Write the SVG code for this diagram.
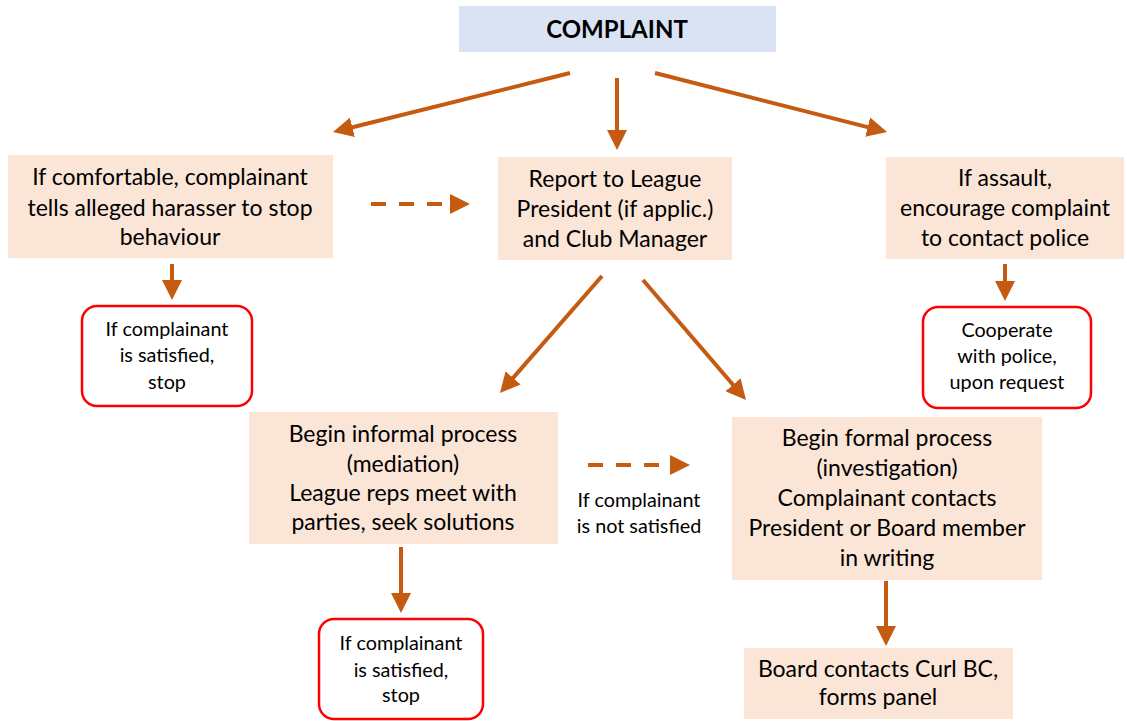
<svg xmlns="http://www.w3.org/2000/svg" width="1127" height="721" viewBox="0 0 1127 721">
<style>
.box{fill:#fbe5d6;}
.top{fill:#dae3f3;}
.red{fill:#fff;stroke:#ff0000;stroke-width:2.5;}
text{font-family:Lato,"Liberation Sans",sans-serif;fill:#000;text-anchor:middle;}
.t{font-size:23px;}
.s{font-size:19.8px;}
.c{stroke:#c55a11;stroke-width:4;fill:none;marker-end:url(#ah);}
.d{stroke-dasharray:15 13;}
</style>
<defs>
<marker id="ah" viewBox="0 0 20 20" refX="2" refY="10" markerWidth="20" markerHeight="20" markerUnits="userSpaceOnUse" orient="auto">
<path d="M0,0 L20,10 L0,20 z" fill="#c55a11"/>
</marker>
</defs>
<rect width="1127" height="721" fill="#fff"/>
<g id="complaint">
<rect class="top" x="459" y="6" width="317" height="46"/>
<text x="617" y="38" style="font-size:24px;font-weight:bold">COMPLAINT</text>
</g>
<g id="tell">
<rect class="box" x="8" y="155" width="325" height="103"/>
<text class="t" x="170" y="185">If comfortable, complainant</text>
<text class="t" x="170" y="216">tells alleged harasser to stop</text>
<text class="t" x="170" y="245">behaviour</text>
</g>
<g id="report">
<rect class="box" x="498" y="157" width="234" height="103"/>
<text class="t" x="615" y="187">Report to League</text>
<text class="t" x="615" y="217">President (if applic.)</text>
<text class="t" x="615" y="247">and Club Manager</text>
</g>
<g id="assault">
<rect class="box" x="886" y="157" width="238" height="102"/>
<text class="t" x="1005" y="186">If assault,</text>
<text class="t" x="1005" y="216">encourage complaint</text>
<text class="t" x="1005" y="246">to contact police</text>
</g>
<g id="stop1">
<rect class="red" x="82" y="306" width="170" height="100" rx="15"/>
<text class="s" x="167" y="336">If complainant</text>
<text class="s" x="167" y="362">is satisfied,</text>
<text class="s" x="167" y="389">stop</text>
</g>
<g id="police">
<rect class="red" x="923" y="307" width="168" height="101" rx="15"/>
<text class="s" x="1007" y="337">Cooperate</text>
<text class="s" x="1007" y="363">with police,</text>
<text class="s" x="1007" y="389">upon request</text>
</g>
<g id="informal">
<rect class="box" x="249" y="412" width="309" height="132"/>
<text class="t" x="403" y="442">Begin informal process</text>
<text class="t" x="403" y="472">(mediation)</text>
<text class="t" x="403" y="501">League reps meet with</text>
<text class="t" x="403" y="530">parties, seek solutions</text>
</g>
<g id="formal">
<rect class="box" x="732" y="417" width="310" height="163"/>
<text class="t" x="887" y="446">Begin formal process</text>
<text class="t" x="887" y="476">(investigation)</text>
<text class="t" x="887" y="506">Complainant contacts</text>
<text class="t" x="887" y="536">President or Board member</text>
<text class="t" x="887" y="566">in writing</text>
</g>
<g id="stop2">
<rect class="red" x="319" y="619" width="164" height="100" rx="15"/>
<text class="s" x="401" y="650">If complainant</text>
<text class="s" x="401" y="677">is satisfied,</text>
<text class="s" x="401" y="702">stop</text>
</g>
<g id="board">
<rect class="box" x="744" y="648" width="269" height="71"/>
<text class="t" x="878" y="677">Board contacts Curl BC,</text>
<text class="t" x="878" y="705">forms panel</text>
</g>
<g id="label">
<text class="s" x="639" y="507">If complainant</text>
<text class="s" x="639" y="533">is not satisfied</text>
</g>
<g id="connectors">
<line class="c" x1="570" y1="73" x2="350.5" y2="127.7"/>
<line class="c" x1="617" y1="78" x2="617" y2="132"/>
<line class="c" x1="655" y1="73" x2="869.6" y2="127.6"/>
<line class="c d" x1="371" y1="204" x2="452" y2="204"/>
<line class="c" x1="172" y1="264" x2="172" y2="282"/>
<line class="c" x1="602" y1="276" x2="511.8" y2="379.4"/>
<line class="c" x1="643" y1="280" x2="734.3" y2="386.3"/>
<line class="c" x1="1005" y1="264" x2="1005" y2="283"/>
<line class="c" x1="401" y1="547" x2="401" y2="595"/>
<line class="c d" x1="588" y1="465" x2="672" y2="465"/>
<line class="c" x1="886" y1="581" x2="886" y2="628"/>
</g>
</svg>
